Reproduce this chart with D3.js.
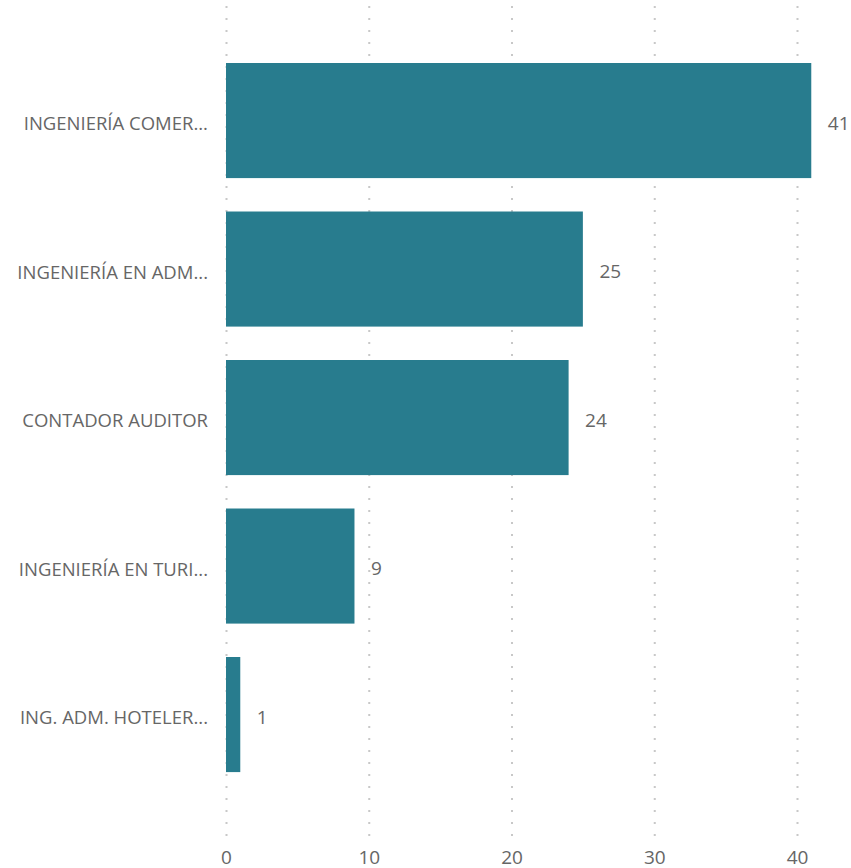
<!DOCTYPE html>
<html>
<head>
<meta charset="utf-8">
<script src="https://cdn.jsdelivr.net/npm/d3@7"></script>
<style>
  body { margin: 0; background: #fff; }
  text { font-family: "Open Sans", sans-serif; fill: #666; }
</style>
</head>
<body>
<script>
var categories = ["INGENIERÍA COMER...", "INGENIERÍA EN ADM...", "CONTADOR AUDITOR", "INGENIERÍA EN TURI...", "ING. ADM. HOTELER..."];
var values = [41, 25, 24, 9, 1];
var ticks = [0, 10, 20, 30, 40];

var w = 851, h = 868;
var svg = d3.select("body").append("svg")
    .attr("width", w)
    .attr("height", h);

var xScale = d3.scaleLinear()
    .domain([0, 40])
    .range([226.5, 797.5]);

var yScale = d3.scaleBand()
    .domain(categories)
    .range([46.3, 788.8])
    .paddingInner(0.225)
    .paddingOuter(0.1125);

// dotted gridlines
svg.selectAll("line.grid")
    .data(ticks)
    .enter()
    .append("line")
    .attr("class", "grid")
    .attr("x1", function(d) { return xScale(d); })
    .attr("x2", function(d) { return xScale(d); })
    .attr("y1", 6)
    .attr("y2", 838)
    .attr("stroke", "#c8c8c8")
    .attr("stroke-width", 2)
    .attr("stroke-dasharray", "2 10");

var rows = categories.map(function(c, i) { return {cat: c, val: values[i]}; });

svg.selectAll("rect")
    .data(rows)
    .enter()
    .append("rect")
    .attr("x", xScale(0) - 0.5)
    .attr("y", function(d) { return yScale(d.cat); })
    .attr("width", function(d) { return xScale(d.val) - xScale(0); })
    .attr("height", yScale.bandwidth())
    .attr("fill", "#287c8e");

// value labels
svg.selectAll("text.val")
    .data(rows)
    .enter()
    .append("text")
    .attr("class", "val")
    .attr("x", function(d) { return xScale(d.val) + 16; })
    .attr("y", function(d) { return yScale(d.cat) + yScale.bandwidth() / 2 + 2.5; })
    .attr("dy", "0.35em")
    .style("font-size", "19px")
    .text(function(d) { return d.val; });

// category labels
svg.selectAll("text.cat")
    .data(rows)
    .enter()
    .append("text")
    .attr("class", "cat")
    .attr("x", 208)
    .attr("y", function(d) { return yScale(d.cat) + yScale.bandwidth() / 2 + 3; })
    .attr("dy", "0.35em")
    .attr("text-anchor", "end")
    .style("font-size", "18.5px")
    .text(function(d) { return d.cat; });

// x axis labels
svg.selectAll("text.tick")
    .data(ticks)
    .enter()
    .append("text")
    .attr("class", "tick")
    .attr("x", function(d) { return xScale(d); })
    .attr("y", 857)
    .attr("dy", "0.35em")
    .attr("text-anchor", "middle")
    .style("font-size", "19px")
    .text(function(d) { return d; });
</script>
</body>
</html>
